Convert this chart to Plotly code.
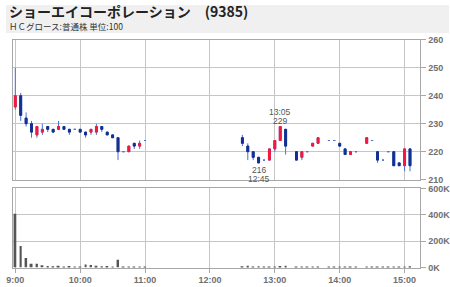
import plotly.graph_objects as go
import pandas as pd

DAY = "2025-01-01 "

times = ["09:00", "09:05", "09:10", "09:15", "09:20", "09:25", "09:30", "09:35", "09:40", "09:45",
         "09:50", "09:55", "10:00", "10:05", "10:10", "10:15", "10:20", "10:25", "10:30", "10:35",
         "10:40", "10:45", "10:50", "10:55", "11:00",
         "12:30", "12:35", "12:40", "12:45", "12:50", "12:55", "13:00", "13:05", "13:10", "13:20",
         "13:25", "13:30", "13:35", "13:40", "13:50", "13:55", "14:00", "14:05", "14:10", "14:15",
         "14:25", "14:30", "14:35", "14:40", "14:45", "14:50", "14:55", "15:00", "15:05"]

opens = [236, 240, 232, 230, 226, 227, 229, 228, 228, 229,
         228, 228, 228, 227, 227, 227, 229, 227, 226, 225,
         220, 220, 223, 222, 224,
         225, 222, 220, 218, 217, 217, 221, 224, 228, 220,
         218, 220, 222, 223, 224, 224, 223, 221, 219, 220,
         223, 224, 220, 217, 220, 220, 216, 215, 221]
highs = [250, 241, 234, 231, 229, 230, 229, 228, 231, 229,
         228, 228, 228, 227, 228, 230, 229, 227, 226, 225,
         220, 222, 223, 224, 224,
         226, 223, 220, 218, 217, 221, 224, 229, 228, 220,
         220, 220, 223, 225, 224, 224, 223, 221, 220, 220,
         225, 224, 220, 217, 220, 220, 216, 221, 221]
lows = [235, 231, 229, 225, 225, 226, 227, 227, 228, 228,
        226, 228, 227, 225, 226, 226, 227, 226, 225, 217,
        220, 220, 221, 221, 224,
        222, 217, 217, 216, 217, 217, 220, 224, 219, 217,
        217, 220, 222, 223, 224, 224, 222, 219, 219, 220,
        223, 224, 216, 217, 220, 215, 215, 213, 213]
closes = [240, 233, 230, 227, 229, 228, 228, 227, 229, 228,
          227, 228, 227, 226, 228, 229, 228, 226, 225, 220,
          220, 222, 222, 223, 224,
          223, 220, 218, 216, 217, 221, 224, 229, 222, 217,
          220, 220, 223, 225, 224, 224, 222, 219, 220, 220,
          225, 224, 217, 217, 220, 215, 215, 221, 215]
volumes = [408000, 164000, 73000, 29000, 29000, 17000, 12000, 10000, 14000, 8000,
           12000, 7000, 8000, 22000, 20000, 14000, 10000, 12000, 8000, 59000,
           8000, 8000, 6000, 8000, 4000,
           10000, 14000, 7000, 10000, 7000, 7000, 7000, 12000, 14000, 5000,
           5000, 5000, 5000, 5000, 5000, 5000, 7000, 5000, 5000, 5000,
           5000, 7000, 5000, 5000, 5000, 5000, 5000, 7000, 10000]

price_ticks = [210, 220, 230, 240, 250, 260]
vol_ticks = [0, 200000, 400000, 600000]
vol_tick_labels = ["0K", "200K", "400K", "600K"]
hour_ticks = ["09:00", "10:00", "11:00", "12:00", "13:00", "14:00", "15:00"]

ann_high_time, ann_high_value = "13:05", 229
ann_low_time, ann_low_value = "12:45", 216

title_text = "ショーエイコーポレーション　(9385)"
subtitle_text = "ＨＣグロース:普通株 単位:100"

df = pd.DataFrame({"t": pd.to_datetime([DAY + t for t in times]),
                   "o": opens, "h": highs, "l": lows, "c": closes, "v": volumes})
body = df[df["o"] != df["c"]]

W, H = 450, 287
x_dom = [6.7 / W, 421 / W]
main_dom = [(H - 181) / H, (H - 36) / H]
vol_dom = [(H - 272) / H, (H - 190) / H]
x_range = [DAY + "08:57:30", DAY + "15:14:40"]

WICK = "#4d6fcf"
RED = "#f5183c"
NAVY = "#13308f"
GRID = "#c6c6c6"
FRAME = "#a8a8a8"
TICKFONT = dict(family="Liberation Sans", size=9, color="#707070", weight="bold")

fig = go.Figure()

fig.add_trace(go.Candlestick(
    x=df["t"], open=df["o"], high=df["h"], low=df["l"], close=df["c"],
    increasing=dict(line=dict(color=WICK, width=1), fillcolor=WICK),
    decreasing=dict(line=dict(color=WICK, width=1), fillcolor=WICK),
    whiskerwidth=0, xaxis="x", yaxis="y", hoverinfo="skip"))

fig.add_trace(go.Candlestick(
    x=body["t"], open=body["o"], high=body[["o", "c"]].max(axis=1),
    low=body[["o", "c"]].min(axis=1), close=body["c"],
    increasing=dict(line=dict(color=RED, width=1), fillcolor=RED),
    decreasing=dict(line=dict(color=NAVY, width=1), fillcolor=NAVY),
    whiskerwidth=0, xaxis="x", yaxis="y", hoverinfo="skip"))

fig.add_trace(go.Bar(x=df["t"], y=df["v"], width=110000, marker=dict(color="#555555", line=dict(width=0)),
                     xaxis="x2", yaxis="y2", hoverinfo="skip"))

common_x = dict(domain=x_dom, range=x_range, type="date", tickvals=[DAY + h for h in hour_ticks],
                showgrid=True, gridcolor=GRID, gridwidth=1, showline=True, linecolor=FRAME,
                linewidth=1, mirror=True, zeroline=False, rangeslider=dict(visible=False))

fig.update_layout(
    width=W, height=H, margin=dict(l=0, r=0, t=0, b=0),
    paper_bgcolor="white", plot_bgcolor="white", showlegend=False,
    boxgap=0.5,
    xaxis=dict(**common_x, anchor="y", showticklabels=False, ticks=""),
    xaxis2=dict(**common_x, anchor="y2", matches="x", showticklabels=True, tickformat="%-H:%M",
                ticks="outside", ticklen=4, tickcolor=FRAME, tickfont=TICKFONT),
    yaxis=dict(domain=main_dom, range=[price_ticks[0], price_ticks[-1]], side="right", anchor="x",
               tickvals=price_ticks, showgrid=True, gridcolor=GRID, showline=True, linecolor=FRAME,
               mirror=True, ticks="outside", ticklen=5, tickcolor=FRAME, tickfont=TICKFONT,
               zeroline=False),
    yaxis2=dict(domain=vol_dom, range=[vol_ticks[0], vol_ticks[-1]], side="right", anchor="x2",
                tickvals=vol_ticks, ticktext=vol_tick_labels, showgrid=True, gridcolor=GRID,
                showline=True, linecolor=FRAME, mirror=True, ticks="outside", ticklen=5,
                tickcolor=FRAME, tickfont=TICKFONT, zeroline=False),
)

fig.add_shape(type="rect", xref="paper", yref="paper", x0=0, x1=1, y0=(H - 29) / H, y1=1,
              fillcolor="#f0f0f0", line=dict(width=0), layer="below")

fig.add_annotation(xref="paper", yref="paper", x=1 / W, y=(H - 6.5) / H, xanchor="left", yanchor="middle",
                   text="<b>" + title_text + "</b>", showarrow=False,
                   font=dict(family="Noto Sans CJK JP", size=14, color="#222222"))
fig.add_annotation(xref="paper", yref="paper", x=1 / W, y=(H - 21.5) / H, xanchor="left", yanchor="middle",
                   text=subtitle_text, showarrow=False,
                   font=dict(family="Noto Sans CJK JP", size=8.5, color="#333333"))

AF = dict(family="Liberation Sans", size=8.5, color="#555555")
fig.add_annotation(x=DAY + ann_high_time, y=ann_high_value, xref="x", yref="y", text=str(ann_high_value),
                   showarrow=False, yanchor="bottom", yshift=-1, font=AF)
fig.add_annotation(x=DAY + ann_high_time, y=ann_high_value, xref="x", yref="y", text=ann_high_time.lstrip("0"),
                   showarrow=False, yanchor="bottom", yshift=8, font=AF)
fig.add_annotation(x=DAY + ann_low_time, y=ann_low_value, xref="x", yref="y", text=str(ann_low_value),
                   showarrow=False, yanchor="top", yshift=0, font=AF)
fig.add_annotation(x=DAY + ann_low_time, y=ann_low_value, xref="x", yref="y", text=ann_low_time.lstrip("0"),
                   showarrow=False, yanchor="top", yshift=-9, font=AF)

fig.write_html("out.html")
